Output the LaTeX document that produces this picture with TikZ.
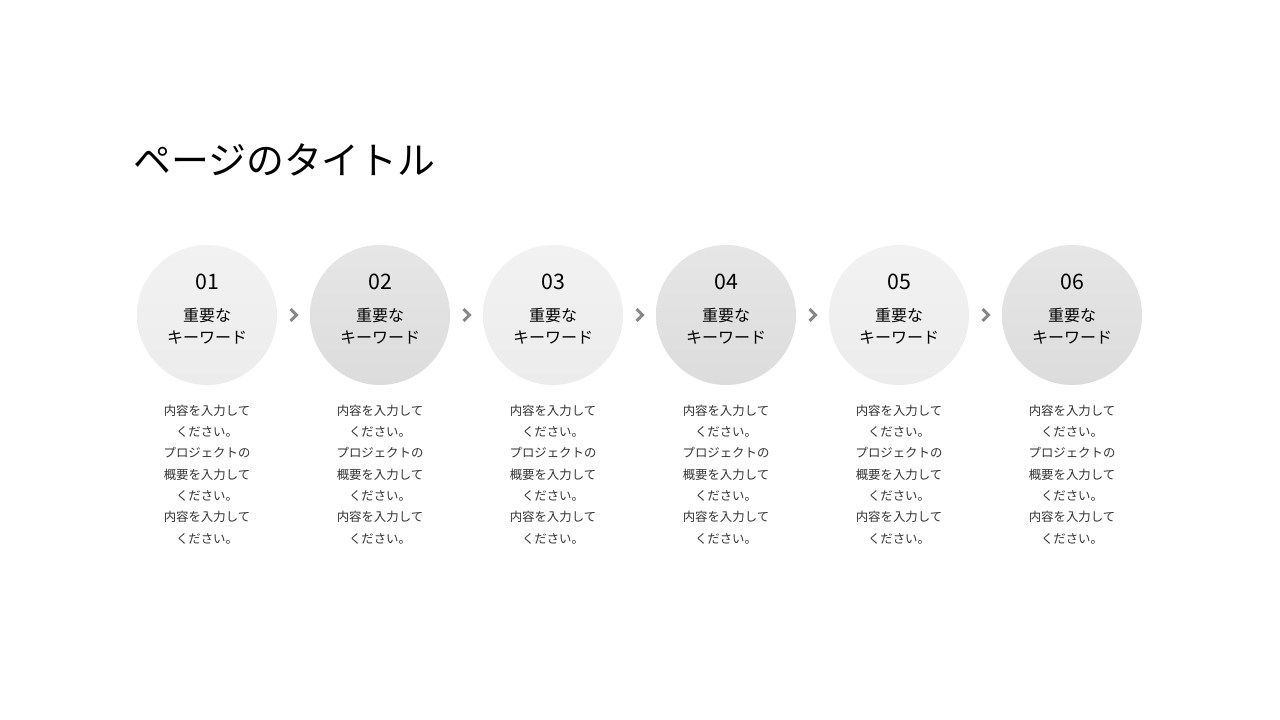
\documentclass[tikz,border=0pt]{standalone}
\usepackage{fontspec}
\setmainfont{Noto Sans CJK JP}
\usetikzlibrary{positioning}

\definecolor{oddtop}{HTML}{F2F2F2}
\definecolor{oddbottom}{HTML}{ECECEC}
\definecolor{eventop}{HTML}{E6E6E6}
\definecolor{evenbottom}{HTML}{DCDCDC}
\definecolor{chevgray}{HTML}{888888}
\definecolor{desctext}{HTML}{333333}

\tikzset{
	keycircle/.style={circle, minimum size=105pt, inner sep=0pt, outer sep=0pt},
	oddkey/.style={keycircle, top color=oddtop, bottom color=oddbottom},
	evenkey/.style={keycircle, top color=eventop, bottom color=evenbottom},
	numlabel/.style={inner sep=0pt, text=black, font=\fontsize{16pt}{18pt}\selectfont},
	keylabel/.style={inner sep=0pt, align=center, text=black, font=\fontsize{12pt}{16.5pt}\selectfont},
	desclabel/.style={inner sep=0pt, align=center, text=desctext, font=\fontsize{9.3pt}{16pt}\selectfont},
	chevron/.style={draw=chevgray, line width=2.3pt, line join=miter},
}

\begin{document}
\begin{tikzpicture}[x=0.75pt, y=-0.75pt]
				\fill[white] (0,0) rectangle (1280,720);
				\useasboundingbox (0,0) rectangle (1280,720);
				
				\node[anchor=west, inner sep=0pt, font=\fontsize{28.4pt}{32pt}\selectfont] (title) at (133,160) {ページのタイトル};
				
				\node[oddkey]                               (c1) at (207,315) {};
				\node[evenkey, right=24.75pt of c1]         (c2) {};
				\node[oddkey, right=24.75pt of c2]          (c3) {};
				\node[evenkey, right=24.75pt of c3]         (c4) {};
				\node[oddkey, right=24.75pt of c4]          (c5) {};
				\node[evenkey, right=24.75pt of c5]         (c6) {};
				
				\node[numlabel] (num1) at ([shift={(0,-33)}]c1.center) {01};
				\node[numlabel] (num2) at ([shift={(0,-33)}]c2.center) {02};
				\node[numlabel] (num3) at ([shift={(0,-33)}]c3.center) {03};
				\node[numlabel] (num4) at ([shift={(0,-33)}]c4.center) {04};
				\node[numlabel] (num5) at ([shift={(0,-33)}]c5.center) {05};
				\node[numlabel] (num6) at ([shift={(0,-33)}]c6.center) {06};
				
				\node[keylabel] (kw1) at ([shift={(0,11)}]c1.center) {重要な\\キーワード};
				\node[keylabel] (kw2) at ([shift={(0,11)}]c2.center) {重要な\\キーワード};
				\node[keylabel] (kw3) at ([shift={(0,11)}]c3.center) {重要な\\キーワード};
				\node[keylabel] (kw4) at ([shift={(0,11)}]c4.center) {重要な\\キーワード};
				\node[keylabel] (kw5) at ([shift={(0,11)}]c5.center) {重要な\\キーワード};
				\node[keylabel] (kw6) at ([shift={(0,11)}]c6.center) {重要な\\キーワード};
				
				\node[desclabel, below=14.5pt of c1] (desc1) {内容を入力して\\ください。\\プロジェクトの\\概要を入力して\\ください。\\内容を入力して\\ください。};
				\node[desclabel, below=14.5pt of c2] (desc2) {内容を入力して\\ください。\\プロジェクトの\\概要を入力して\\ください。\\内容を入力して\\ください。};
				\node[desclabel, below=14.5pt of c3] (desc3) {内容を入力して\\ください。\\プロジェクトの\\概要を入力して\\ください。\\内容を入力して\\ください。};
				\node[desclabel, below=14.5pt of c4] (desc4) {内容を入力して\\ください。\\プロジェクトの\\概要を入力して\\ください。\\内容を入力して\\ください。};
				\node[desclabel, below=14.5pt of c5] (desc5) {内容を入力して\\ください。\\プロジェクトの\\概要を入力して\\ください。\\内容を入力して\\ください。};
				\node[desclabel, below=14.5pt of c6] (desc6) {内容を入力して\\ください。\\プロジェクトの\\概要を入力して\\ください。\\内容を入力して\\ください。};
				
				% chevrons between the circles
				\coordinate[right=12.375pt of c1] (a1);
				\coordinate[right=12.375pt of c2] (a2);
				\coordinate[right=12.375pt of c3] (a3);
				\coordinate[right=12.375pt of c4] (a4);
				\coordinate[right=12.375pt of c5] (a5);
				
				\draw[chevron] ([shift={(-3,-6)}]a1) -- ([shift={(3,0)}]a1) -- ([shift={(-3,6)}]a1);
				\draw[chevron] ([shift={(-3,-6)}]a2) -- ([shift={(3,0)}]a2) -- ([shift={(-3,6)}]a2);
				\draw[chevron] ([shift={(-3,-6)}]a3) -- ([shift={(3,0)}]a3) -- ([shift={(-3,6)}]a3);
				\draw[chevron] ([shift={(-3,-6)}]a4) -- ([shift={(3,0)}]a4) -- ([shift={(-3,6)}]a4);
				\draw[chevron] ([shift={(-3,-6)}]a5) -- ([shift={(3,0)}]a5) -- ([shift={(-3,6)}]a5);
				
			\end{tikzpicture}
\end{document}
